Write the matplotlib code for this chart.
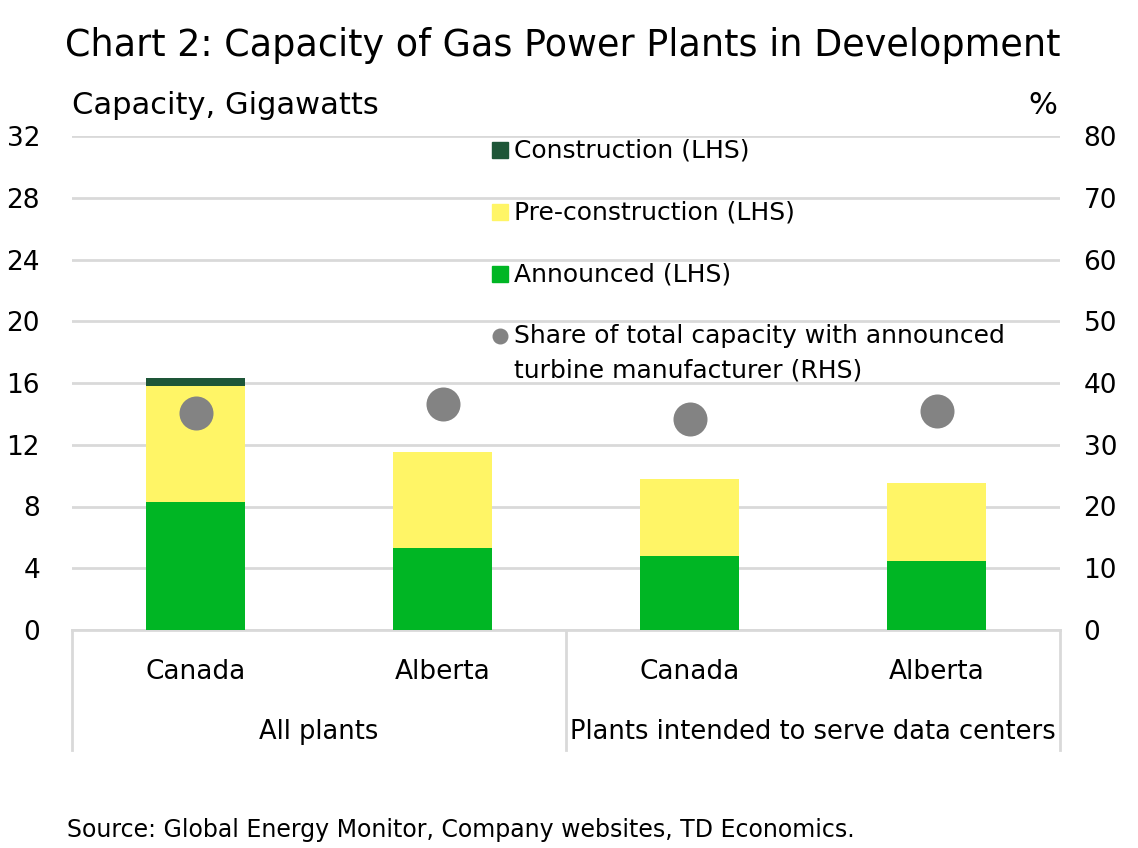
import matplotlib.pyplot as plt

plt.rcParams['font.family'] = ['DejaVu Sans']

# data
regions = ["Canada", "Alberta", "Canada", "Alberta"]
groups = ["All plants", "Plants intended to serve data centers"]
announced = [8.3, 5.3, 4.8, 4.5]
pre_construction = [7.5, 6.2, 5.0, 5.0]
construction = [0.5, 0.0, 0.0, 0.0]
turbine_share = [35.2, 36.6, 34.2, 35.4]
legend_labels = ["Construction (LHS)", "Pre-construction (LHS)", "Announced (LHS)",
                 "Share of total capacity with announced"]

c_con = "#1e5638"
c_pre = "#fff566"
c_ann = "#00b624"
c_dot = "#838383"
c_grid = "#d9d9d9"

fig = plt.figure(figsize=(11.38, 8.48), dpi=100)
ax = fig.add_axes([72 / 1138, 1 - 630 / 848, 988 / 1138, 494 / 848])
ax2 = ax.twinx()

x = list(range(len(regions)))
bottom2 = [a + p for a, p in zip(announced, pre_construction)]
ax.bar(x, announced, width=0.4, color=c_ann, zorder=3)
ax.bar(x, pre_construction, width=0.4, bottom=announced, color=c_pre, zorder=3)
ax.bar(x, construction, width=0.4, bottom=bottom2, color=c_con, zorder=3)
ax2.scatter(x, turbine_share, s=600, color=c_dot, zorder=4, linewidths=0)

ax.set_xlim(-0.5, 3.5)
ax.set_ylim(0, 32)
ax.set_yticks(range(0, 33, 4))
ax2.set_ylim(0, 80)
ax2.set_yticks(range(0, 81, 10))
ax.yaxis.grid(True, color=c_grid, linewidth=2)
ax.set_axisbelow(True)
for a in (ax, ax2):
    for s in a.spines.values():
        s.set_visible(False)
    a.tick_params(axis='y', length=0, labelsize=19)
ax.spines['bottom'].set_visible(True)
ax.spines['bottom'].set_color(c_grid)
ax.spines['bottom'].set_linewidth(2)
ax.set_xticks([])
ax.tick_params(axis='y', pad=23)
ax2.tick_params(axis='y', pad=17)

# category + group labels
for xi, r in zip(x, regions):
    ax.text(xi, -0.085, r, transform=ax.get_xaxis_transform(), ha='center', va='center', fontsize=19)
for gx, g in zip([0.5, 2.5], groups):
    ax.text(gx, -0.207, g, transform=ax.get_xaxis_transform(), ha='center', va='center', fontsize=18.5)
for sx in [-0.5, 1.5, 3.5]:
    ax.plot([sx, sx], [0, -0.243], transform=ax.get_xaxis_transform(), color=c_grid,
            linewidth=2, clip_on=False)

# legend, one row per grid band
colors = [c_con, c_pre, c_ann, c_dot]
markers = ['s', 's', 's', 'o']
for i, (lab, col, mk) in enumerate(zip(legend_labels, colors, markers)):
    yy = (630 - (150 + 62 * i)) / 494
    ax2.plot([0.4335], [yy], marker=mk, color=col, markersize=11 if mk == 's' else 10.5,
             linestyle='none', transform=ax2.transAxes, clip_on=False, zorder=5)
    ax2.text(0.4475, yy, lab, transform=ax2.transAxes, va='center', ha='left', fontsize=18)
ax2.text(0.4475, (630 - 370) / 494, "turbine manufacturer (RHS)", transform=ax2.transAxes,
         va='center', ha='left', fontsize=18)

fig.text(65 / 1138, 1 - 45 / 848, "Chart 2: Capacity of Gas Power Plants in Development",
         fontsize=26.3, va='center', ha='left')
fig.text(72 / 1138, 1 - 105 / 848, "Capacity, Gigawatts", fontsize=22, va='center', ha='left')
fig.text(1057 / 1138, 1 - 105 / 848, "%", fontsize=22, va='center', ha='right')
fig.text(67 / 1138, 1 - 830 / 848, "Source: Global Energy Monitor, Company websites, TD Economics.",
         fontsize=17, va='center', ha='left')

fig.savefig("out.png", dpi=100)
